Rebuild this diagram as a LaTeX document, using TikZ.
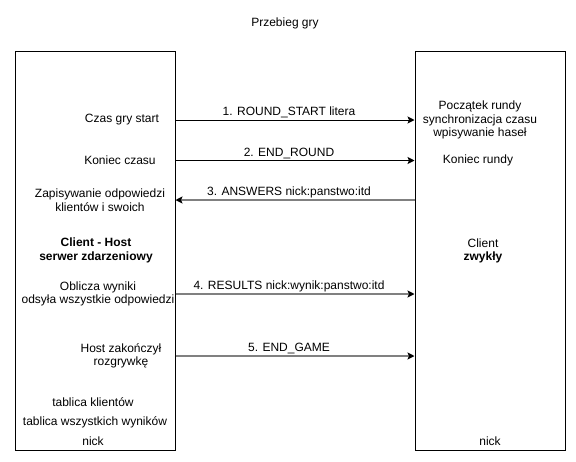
\documentclass[tikz,border=0pt]{standalone}
\usepackage{fontspec}
\setmainfont{Liberation Sans}
\usetikzlibrary{arrows.meta,positioning}
\definecolor{msggray}{HTML}{808080}
\tikzset{
  box/.style={draw, line width=1pt, inner sep=0pt},
  txt/.style={align=center, font=\fontsize{12}{13.5}\selectfont, inner sep=1pt},
  msg/.style={line width=1pt, -{Stealth[length=7pt,width=7pt,inset=1.5pt,black]}},
  graymsg/.style={msg, draw=msggray, line width=1.6pt},
  lab/.style={above, inner sep=1.5pt, xshift=-6pt, font=\fontsize{12}{13.5}\selectfont}
}

\begin{document}
\begin{tikzpicture}[x=1pt,y=-1pt]
\useasboundingbox (0,0) rectangle (576,461);

%Title
\node[txt] (title) at (285,23) {Przebieg gry};

%Boxes
\node[box, minimum width=160pt, minimum height=399pt] (host) at (95,250.5) {};
\node[box, minimum width=150pt, minimum height=399pt] (client) at (490,250.5) {};

%Host
\node[txt] (czasstart) at (122,120) {Czas gry start};
\node[txt] (koniecczasu) at (120,160.5) {Koniec czasu};
\node[txt] (zapis) at (100,200) {Zapisywanie odpowiedzi\\klientów i swoich};
\node[txt] (hostname) at (96,250.5) {\bfseries Client - Host\\\bfseries serwer zdarzeniowy};
\node[txt] (oblicza) at (98,294) {Oblicza wyniki\\odsyła wszystkie odpowiedzi};
\node[txt] (zakonczyl) at (121,356) {Host zakończył\\rozgrywkę};
\node[txt] (tklient) at (93,402.5) {tablica klientów};
\node[txt] (twyniki) at (95,422) {tablica wszystkich wyników};
\node[txt] (hostnick) at (93,441.5) {nick};

%Client
\node[txt] (poczatek) at (480,120) {Początek rundy\\synchronizacja czasu\\wpisywanie haseł};
\node[txt] (koniecrundy) at (478,160) {Koniec rundy};
\node[txt] (clientname) at (483,251) {Client\\\bfseries zwykły};
\node[txt] (clientnick) at (490,441) {nick};

%Messages
\draw[msg] (czasstart -| host.east) -- node[lab] {1. ROUND\_START litera} (czasstart -| client.west);
\draw[msg] (koniecczasu -| host.east) -- node[lab] {2. END\_ROUND} (koniecczasu -| client.west);
\draw[graymsg] (zapis -| client.west) -- node[lab] {3. ANSWERS nick:panstwo:itd} (zapis -| host.east);
\draw[graymsg] (oblicza -| host.east) -- node[lab] {4. RESULTS nick:wynik:panstwo:itd} (oblicza -| client.west);
\draw[graymsg] (zakonczyl -| host.east) -- node[lab] {5. END\_GAME} (zakonczyl -| client.west);

\end{tikzpicture}
\end{document}
